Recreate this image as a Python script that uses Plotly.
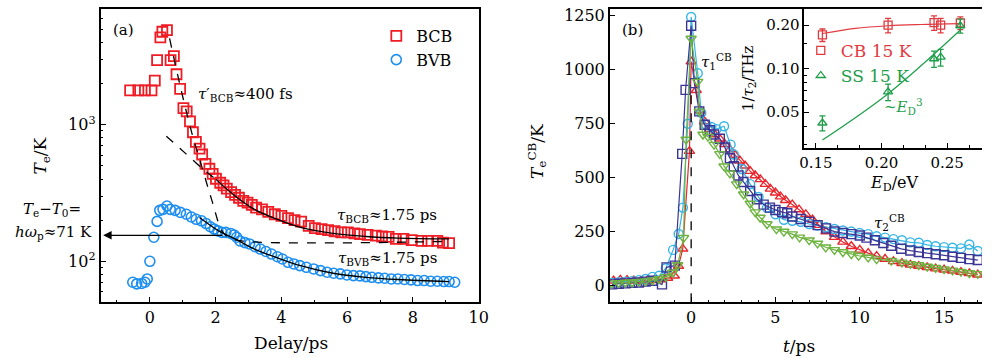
import plotly.graph_objects as go
import numpy as np

W, H = 992, 358
FONT = "DejaVu Serif"

# ---------------- Panel (a) data ----------------
bcb_t = [-0.6, -0.35, -0.15, 0.05, 0.15, 0.22, 0.32, 0.38, 0.52, 0.63, 0.73, 0.81, 0.92, 1.02, 1.12,
         1.22, 1.31, 1.40, 1.51, 1.59, 1.69, 1.81, 1.91, 2.01, 2.14, 2.24, 2.34, 2.47, 2.59, 2.71,
         2.84, 2.97, 3.10, 3.23, 3.41, 3.60, 3.80, 4.00, 4.20, 4.40, 4.60, 4.83, 5.02, 5.22, 5.42,
         5.62, 5.82, 6.02, 6.22, 6.39, 6.62, 6.87, 7.06, 7.26, 7.48, 7.71, 7.96, 8.26, 8.46, 8.74,
         8.91, 9.10]
bcb_T = [1780, 1780, 1780, 1780, 2100, 2970, 4350, 4790, 4920, 2970, 3180, 2340, 1830, 1322, 1250,
         1057, 880, 748, 669, 605, 517, 476, 437, 402, 376, 360, 340, 321, 306, 292,
         277, 269, 259, 247, 240, 230, 221, 215, 207, 200, 195, 182, 175, 172, 169,
         166, 163, 163, 160, 158, 156, 154, 152, 151, 146, 146, 143, 141, 141, 141,
         137, 136]

bvb_t = [-0.52, -0.40, -0.25, -0.15, -0.08, 0.0, 0.12, 0.22, 0.30, 0.40, 0.52, 0.62, 0.77, 0.93, 1.11,
         1.26, 1.41, 1.57, 1.71, 1.84, 1.96, 2.07, 2.19, 2.31, 2.46, 2.56, 2.64, 2.74, 2.89, 3.03,
         3.20, 3.36, 3.53, 3.70, 3.88, 4.03, 4.20, 4.38, 4.56, 4.76, 4.98, 5.19, 5.39, 5.59, 5.79,
         5.99, 6.19, 6.39, 6.57, 6.75, 6.95, 7.14, 7.34, 7.54, 7.74, 7.94, 8.14, 8.34, 8.54, 8.74,
         8.94, 9.10, 9.27]
bvb_T = [70.3, 68.4, 68.9, 70.3, 74.3, 100, 150, 196, 236, 240, 254, 240, 236, 228, 221,
         211, 203, 198, 189, 179, 172, 167, 163, 163, 160, 156, 150, 141, 137, 134,
         128, 123, 118, 113, 108, 104, 98.4, 95.7, 93, 90.4, 87.9, 85.5, 83.2, 81.8, 80.9,
         79.5, 78.6, 78.2, 77.3, 76.4, 75.6, 75.2, 74.3, 74.3, 73.6, 73.2, 72.3, 72.3, 71.5, 71.5,
         71.1, 71.1, 70.3]

# fit curves
fit_bcb_t = [2.01, 2.59, 3.18, 3.78, 4.58, 5.57, 6.57, 7.56, 9.10]
fit_bcb_T = [398, 301, 240, 207, 177, 160, 152, 148, 146]
fit_bvb_t = [1.51, 2.09, 2.59, 3.18, 3.88, 4.58, 5.57, 6.57, 7.56, 9.10]
fit_bvb_T = [209, 167, 146, 123, 106, 93, 81.8, 76.4, 73.6, 71.1]
fast_t = [0.60, 0.95, 1.29, 1.59, 1.89, 2.19, 2.39, 2.79, 9.10]
fast_T = [4275, 1799, 846, 483, 277, 167, 150, 141, 140]
slow_ext_t = [0.50, 0.90, 1.29, 1.69, 2.01]
slow_ext_T = [822, 676, 556, 457, 398]
arrow_level = 155      # K, level of the Te - T0 arrow
arrow_tail_t = 2.25

# ---------------- Panel (b) data ----------------
red_t = [-4.6, -4.2, -3.8, -3.4, -3.0, -2.6, -2.2, -1.8, -1.4, -1.0, -0.75, -0.5, -0.1, 0.0, 0.3, 0.55,
         0.8, 1.1, 1.4, 1.7, 2.0, 2.3, 2.6, 2.9, 3.2, 3.5, 3.8, 4.1, 4.4, 4.7, 5.0, 5.3, 5.6, 6.0,
         6.4, 6.8, 7.2, 7.6, 8.0, 8.5, 9.0, 9.5, 10.0, 10.5, 11.0, 11.5, 12.0, 12.5, 13.0, 13.5,
         14.0, 14.5, 15.0, 15.5, 16.0, 16.5, 17.0]
red_T = [22, 26, 25, 22, 20, 22, 24, 28, 35, 45, 90, 170, 623, 1038, 905, 810,
         760, 725, 700, 680, 655, 630, 605, 578, 555, 530, 510, 492, 470, 448, 430, 412, 395, 375,
         352, 330, 305, 280, 250, 224, 202, 182, 165, 150, 136, 123, 112, 103, 96, 90,
         84, 78, 73, 68, 62, 56, 50]

sq_t = [-4.7, -4.3, -3.9, -3.5, -3.1, -2.7, -2.3, -1.73, -1.46, -0.97, -0.53, -0.33, 0.0, 0.19, 0.48,
        0.8, 1.1, 1.36, 1.7, 2.0, 2.3, 2.53, 2.8, 3.1, 3.5, 3.9, 4.3, 4.67, 5.0, 5.4, 5.7, 6.0,
        6.5, 7.0, 7.5, 8.0, 8.5, 9.0, 9.5, 10.0, 10.4, 10.9, 11.4, 11.87, 12.46, 13.0, 13.5, 14.0,
        14.5, 15.0, 15.5, 16.0, 16.5, 17.0]
sq_T = [5, 8, 10, 12, 14, 18, 22, 5, 84, 92, 610, 907, 1204, 938, 807,
        745, 720, 700, 680, 640, 590, 553, 510, 480, 438, 400, 375, 361, 350, 340, 335, 320,
        308, 295, 280, 265, 250, 243, 238, 232, 222, 210, 197, 184, 170, 162, 155, 150,
        145, 140, 133, 128, 122, 118]

cy_t = [-4.7, -4.3, -3.9, -3.5, -3.1, -2.7, -2.3, -1.9, -1.5, -1.07, -0.74, -0.49, -0.2, 0.0, 0.39,
        0.6, 0.9, 1.2, 1.5, 1.95, 2.34, 2.53, 3.0, 3.5, 4.0, 4.5, 5.0, 5.5, 6.0, 6.5, 7.0, 7.5,
        8.0, 8.5, 9.0, 9.5, 10.0, 10.5, 11.0, 11.5, 12.0, 12.5, 13.0, 13.5, 14.0, 14.5, 15.0,
        15.5, 16.0, 16.5, 17.0]
cy_T = [12, 15, 18, 20, 25, 30, 40, 45, 80, 165, 239, 361, 750, 1245, 984,
        800, 745, 735, 725, 738, 653, 607, 540, 470, 410, 360, 330, 305, 300, 295, 285, 278,
        270, 262, 255, 250, 243, 238, 228, 222, 215, 210, 200, 198, 188, 182, 178,
        175, 172, 190, 160]

gr_t = [-4.7, -4.3, -3.9, -3.5, -3.1, -2.7, -2.3, -1.9, -1.5, -1.1, -0.8, -0.45, -0.3, 0.0, 0.39,
        0.48, 0.7, 1.0, 1.36, 1.7, 1.95, 2.3, 2.7, 3.11, 3.5, 3.8, 4.09, 4.5, 5.06, 5.5, 6.0,
        6.43, 7.0, 7.5, 7.98, 8.5, 9.0, 9.5, 9.93, 10.5, 11.0, 11.87, 12.5, 13.0, 13.5, 14.0,
        14.5, 15.0, 15.5, 16.0, 16.5, 17.0]
gr_T = [10, 12, 14, 15, 18, 20, 25, 30, 40, 60, 95, 221, 677, 1145, 945,
        807, 700, 690, 653, 610, 553, 520, 470, 423, 380, 340, 315, 285, 261, 250, 238,
        223, 210, 195, 177, 165, 155, 145, 138, 130, 122, 115, 107, 100, 95, 88,
        82, 76, 70, 64, 58, 54]

# ---------------- Inset data ----------------
ed = [0.155, 0.205, 0.240, 0.245, 0.260]
cb_rate = [0.171, 0.200, 0.208, 0.200, 0.207]
cb_err = [0.017, 0.023, 0.024, 0.023, 0.021]
ss_rate = [0.042, 0.069, 0.117, 0.120, 0.198]
ss_err = [0.005, 0.009, 0.015, 0.016, 0.022]
cb_fit_e = [0.155, 0.18, 0.205, 0.23, 0.26]
cb_fit_r = [0.175, 0.190, 0.198, 0.202, 0.205]
ss_fit_e = [0.155, 0.205, 0.26]
ss_fit_r = [0.032, 0.067, 0.185]

RED_A = "#ee1c24"
BLUE_A = "#1e8ff0"
RED_B = "#e8262d"
NAVY_B = "#3b3595"
CYAN_B = "#34b4e6"
GREEN_B = "#6cb33f"
RED_I = "#e23a3f"
GREEN_I = "#1f9e4a"


def px(x, y):
    return x / W, 1 - y / H


fig = go.Figure()

# ---- panel a ----
fig.add_trace(go.Scatter(x=bcb_t, y=bcb_T, mode="markers", name="BCB",
                         marker=dict(symbol="square-open", size=10, color=RED_A, line=dict(width=1.8)),
                         xaxis="x", yaxis="y", legend="legend"))
fig.add_trace(go.Scatter(x=bvb_t, y=bvb_T, mode="markers", name="BVB",
                         marker=dict(symbol="circle-open", size=10, color=BLUE_A, line=dict(width=1.6)),
                         xaxis="x", yaxis="y", legend="legend"))
for xs, ys, dash in [(fit_bcb_t, fit_bcb_T, "solid"), (fit_bvb_t, fit_bvb_T, "solid"),
                     (fast_t, fast_T, "dash"), (slow_ext_t, slow_ext_T, "dash")]:
    fig.add_trace(go.Scatter(x=xs, y=ys, mode="lines", showlegend=False,
                             line=dict(color="black", width=1.3, dash=dash, shape="spline"),
                             xaxis="x", yaxis="y"))

# ---- panel b ----
series_b = [
    (red_t, red_T, RED_B, "triangle-up-open"),
    (cy_t, cy_T, CYAN_B, "circle-open"),
    (sq_t, sq_T, NAVY_B, "square-open"),
    (gr_t, gr_T, GREEN_B, "triangle-down-open"),
]
for xs, ys, c, sym in series_b:
    fig.add_trace(go.Scatter(x=xs, y=ys, mode="lines+markers", showlegend=False,
                             line=dict(color=c, width=1.2),
                             marker=dict(symbol=sym, size=9, color=c, line=dict(width=1.4)),
                             xaxis="x2", yaxis="y2"))

# ---- inset ----
fig.add_trace(go.Scatter(x=cb_fit_e, y=cb_fit_r, mode="lines", showlegend=False,
                         line=dict(color=RED_I, width=1.2, shape="spline"), xaxis="x3", yaxis="y3"))
fig.add_trace(go.Scatter(x=ss_fit_e, y=ss_fit_r, mode="lines", showlegend=False,
                         line=dict(color=GREEN_I, width=1.2, shape="spline"), xaxis="x3", yaxis="y3"))
fig.add_trace(go.Scatter(x=ed, y=cb_rate, mode="markers",
                         name='<span style="color:%s">CB 15 K</span>' % RED_I,
                         marker=dict(symbol="square-open", size=8, color=RED_I, line=dict(width=1.3)),
                         error_y=dict(type="data", array=cb_err, color=RED_I, thickness=1.3, width=3),
                         xaxis="x3", yaxis="y3", legend="legend2"))
fig.add_trace(go.Scatter(x=ed, y=ss_rate, mode="markers",
                         name='<span style="color:%s">SS 15 K</span>' % GREEN_I,
                         marker=dict(symbol="triangle-up-open", size=8, color=GREEN_I, line=dict(width=1.3)),
                         error_y=dict(type="data", array=ss_err, color=GREEN_I, thickness=1.3, width=3),
                         xaxis="x3", yaxis="y3", legend="legend2"))

tickfont = dict(family=FONT, size=16, color="black")
axline = dict(showline=True, linecolor="black", linewidth=1.5, ticks="inside",
              tickcolor="black", tickwidth=1.2, showgrid=False, zeroline=False)

ya, yb = 1 - 302 / H, 1 - 7 / H

log_minor = [60, 70, 80, 90, 200, 300, 400, 500, 600, 700, 800, 900, 2000, 3000, 4000, 5000, 6000, 7000]

fig.update_layout(
    width=W, height=H, margin=dict(l=0, r=0, t=0, b=0),
    paper_bgcolor="white", plot_bgcolor="white",
    font=dict(family=FONT, size=16, color="black"),
    xaxis=dict(domain=[97 / W, 481 / W], range=[-1.5, 10], dtick=2, tick0=0, ticklen=6,
               mirror=True, tickfont=tickfont, anchor="y",
               minor=dict(dtick=1, tick0=0, ticks="inside", ticklen=3, tickcolor="black"), **axline),
    yaxis=dict(domain=[ya, yb], type="log", range=[1.70, 3.847], tickvals=[100, 1000],
               ticktext=["10<sup>2</sup>", "10<sup>3</sup>"], ticklen=6, mirror=True,
               tickfont=tickfont, anchor="x",
               minor=dict(tickvals=log_minor, ticks="inside", ticklen=3, tickcolor="black"), **axline),
    xaxis2=dict(domain=[614 / W, 1.0], range=[-4.83, 17.25], dtick=5, tick0=0, ticklen=6,
                mirror=True, tickfont=tickfont, anchor="y2",
                minor=dict(dtick=1, tick0=0, ticks="inside", ticklen=3, tickcolor="black"), **axline),
    yaxis2=dict(domain=[ya, yb], range=[-78, 1282], dtick=250, tick0=0, ticklen=6,
                tickfont=tickfont, anchor="x2", **axline),
    xaxis3=dict(domain=[811.7 / W, 1.0], range=[0.1413, 0.2765], tickvals=[0.15, 0.20, 0.25],
                ticktext=["0.15", "0.20", "0.25"], ticklen=5, tickfont=dict(family=FONT, size=15),
                anchor="y3",
                minor=dict(dtick=0.05 / 3, tick0=0.15, ticks="inside", ticklen=3, tickcolor="black"),
                **axline),
    yaxis3=dict(domain=[1 - 146.7 / H, yb], type="log", range=[-1.549, -0.587],
                tickvals=[0.05, 0.1, 0.2], ticktext=["0.05", "0.10", "0.20"], ticklen=5,
                tickfont=dict(family=FONT, size=15), anchor="x3",
                minor=dict(tickvals=[0.03, 0.04, 0.06, 0.07, 0.08, 0.09, 0.15], ticks="inside",
                           ticklen=3, tickcolor="black"), **axline),
    legend=dict(x=px(377, 0)[0], y=px(0, 17)[1], xanchor="left", yanchor="top",
                bgcolor="rgba(0,0,0,0)", font=dict(family=FONT, size=16, color="black"),
                tracegroupgap=0, itemwidth=30),
    legend2=dict(x=px(808, 0)[0], y=px(0, 31)[1], xanchor="left", yanchor="top",
                 bgcolor="rgba(0,0,0,0)", font=dict(family=FONT, size=17),
                 tracegroupgap=0, itemwidth=30),
)

# vertical dashed line at t = 0 in panel b
fig.add_shape(type="line", xref="x2", yref="y2 domain", x0=0, x1=0, y0=0, y1=0.73,
              line=dict(color="black", width=1.3, dash="dash"))

# arrow in panel a (log axis annotations use log10 units)
fig.add_annotation(x=-1.42, y=np.log10(arrow_level), ax=arrow_tail_t, ay=np.log10(arrow_level),
                   xref="x", yref="y", axref="x", ayref="y", text="", showarrow=True,
                   arrowhead=2, arrowsize=1.3, arrowwidth=1.3, arrowcolor="black")


def label(x, y, text, size=16, color="black", angle=0, xanchor="center"):
    X, Y = px(x, y)
    fig.add_annotation(x=X, y=Y, xref="paper", yref="paper", text=text, showarrow=False,
                       font=dict(family=FONT, size=size, color=color), textangle=angle,
                       xanchor=xanchor, yanchor="middle")


label(120, 28, "(a)", 15)
label(637, 28, "(b)", 15)
label(290, 343, "Delay/ps", 17)
label(37, 155, "<i>T</i><sub>e</sub>/K", 17, angle=-90)
label(806, 346, "<i>t</i>/ps", 17)
label(540, 150, "<i>T</i><sub>e</sub><sup>CB</sup>/K", 17, angle=-90)
label(244, 93, "<i>τ</i>′<sub>BCB</sub>≈400 fs", 15)
label(388, 215, "<i>τ</i><sub>BCB</sub>≈1.75 ps", 15)
label(388, 258, "<i>τ</i><sub>BVB</sub>≈1.75 ps", 15)
label(48, 209, "<i>T</i><sub>e</sub>−<i>T</i><sub>0</sub>=", 15)
label(49, 232, "<i>hω</i><sub>p</sub>≈71 K", 15)
label(722, 60, "<i>τ</i><sub>1</sub><sup>CB</sup>", 15)
label(898, 222, "<i>τ</i><sub>2</sub><sup>CB</sup>", 15)
label(755, 77, "1/<i>τ</i><sub>2</sub>/THz", 15, angle=-90)
label(903, 183, "<i>E</i><sub>D</sub>/eV", 16)
label(912, 105, "~<i>E</i><sub>D</sub><sup>3</sup>", 15, color=GREEN_I)

fig.write_html("out.html")
